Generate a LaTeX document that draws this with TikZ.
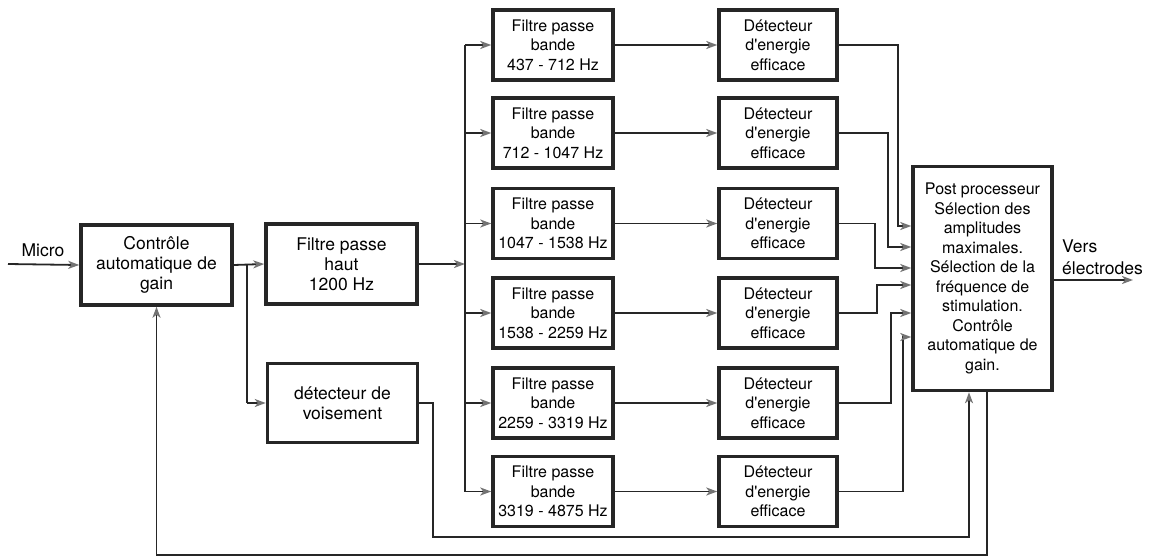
\documentclass[tikz,border=0pt]{standalone}
\usepackage{fontspec}
\setmainfont{TeX Gyre Heros}
\usetikzlibrary{arrows.meta}
\newcommand{\apos}{\textquotesingle}
\begin{document}
\begin{tikzpicture}[x=1pt,y=-1pt,
  blk/.style={draw=black!85,line width=3.5pt,rectangle,inner sep=1pt,align=center},
  bigtxt/.style={font={\fontsize{17.5}{20}\selectfont}},
  smalltxt/.style={font={\fontsize{16}{19.5}\selectfont}},
  wire/.style={draw=black!85,line width=1.8pt},
  arr/.style={wire,-{Stealth[length=11pt,width=8pt,inset=3pt,color=black!55]}},
  lbl/.style={inner sep=0pt,font={\fontsize{17.5}{21}\selectfont}}]
\useasboundingbox (0,0) rectangle (1149,557);

% first stage: gain control, high pass, voicing detector
\node[blk,bigtxt,minimum width=151,minimum height=80] (cag) at (156.5,265) {Contrôle\\automatique de\\gain};
\node[blk,bigtxt,minimum width=151,minimum height=80] (fph) at (341.5,264) {Filtre passe\\haut\\1200 Hz};
\node[blk,bigtxt,minimum width=150,minimum height=79] (voi) at (342.5,403) {détecteur de\\voisement};

% band-pass filters and energy detectors
\foreach \i/\yy/\band in {1/45/437 - 712 Hz,2/133/712 - 1047 Hz,3/223.5/1047 - 1538 Hz,4/313/1538 - 2259 Hz,5/403/2259 - 3319 Hz,6/491.5/3319 - 4875 Hz}{
  \node[blk,smalltxt,minimum width=120,minimum height=70] (f\i) at (553,\yy) {Filtre passe\\bande\\\band};
  \node[blk,smalltxt,minimum width=118,minimum height=70] (d\i) at (778,\yy) {Détecteur\\d\apos energie\\efficace};
}

% post processor
\node[blk,smalltxt,minimum width=139,minimum height=224] (pp) at (982.5,278.5) {Post processeur\\Sélection des\\amplitudes\\maximales.\\Sélection de la\\fréquence de\\stimulation.\\Contrôle\\automatique de\\gain.};

% helper coordinates
\coordinate (mic) at (8,264);
\coordinate (br) at (247,264);
\coordinate (bus) at (465,264);
\coordinate (bustop) at (465,45);
\coordinate (busbot) at (465,491.5);
\coordinate (out) at (1133,280);
\coordinate (vx) at (969,0);
\coordinate (fx) at (987,0);
\coordinate (lowv) at (0,537);
\coordinate (lowf) at (0,555);
\foreach \k/\yy in {1/226,2/247,3/268,4/285,5/313,6/337}{\coordinate (i\k) at (0,\yy);}

% labels
\node[lbl,anchor=base] (micro) at (43,256) {Micro};
\node[lbl,anchor=base west] (vers) at (1062,252) {Vers};
\node[lbl,anchor=base west] (elec) at (1062,274) {électrodes};

% input chain
\draw[arr] (mic) -- (cag.west);
\draw[arr] (cag.east) -- (fph.west);
\draw[wire] (br) -- (br |- voi.west);
\draw[arr] (br |- voi.west) -- (voi.west);
\draw[arr] (fph.east) -- (bus);
\draw[wire] (bustop) -- (busbot);

% filters to detectors
\foreach \i in {1,...,6}{
  \draw[arr] (bus |- f\i.west) -- (f\i.west);
  \draw[arr] (f\i.east) -- (d\i.west);
}

% detectors to post processor
\draw[arr] (d1.east) -| (898,226) -- (pp.west |- i1);
\draw[arr] (d2.east) -| (888,247) -- (pp.west |- i2);
\draw[arr] (d3.east) -| (875,268) -- (pp.west |- i3);
\draw[arr] (d4.east) -| (877,285) -- (pp.west |- i4);
\draw[arr] (d5.east) -| (891,313) -- (pp.west |- i5);
\draw[arr] (d6.east) -| (903,337) -- (pp.west |- i6);

% output
\draw[arr] (pp.east |- out) -- (out);

% voicing to post processor
\draw[arr] (voi.east) -| (433,537) -- (vx |- lowv) -- (vx |- pp.south);

% gain feedback
\draw[arr] (fx |- pp.south) -- (fx |- lowf) -- (cag.south |- lowf) -- (cag.south);
\end{tikzpicture}
\end{document}
